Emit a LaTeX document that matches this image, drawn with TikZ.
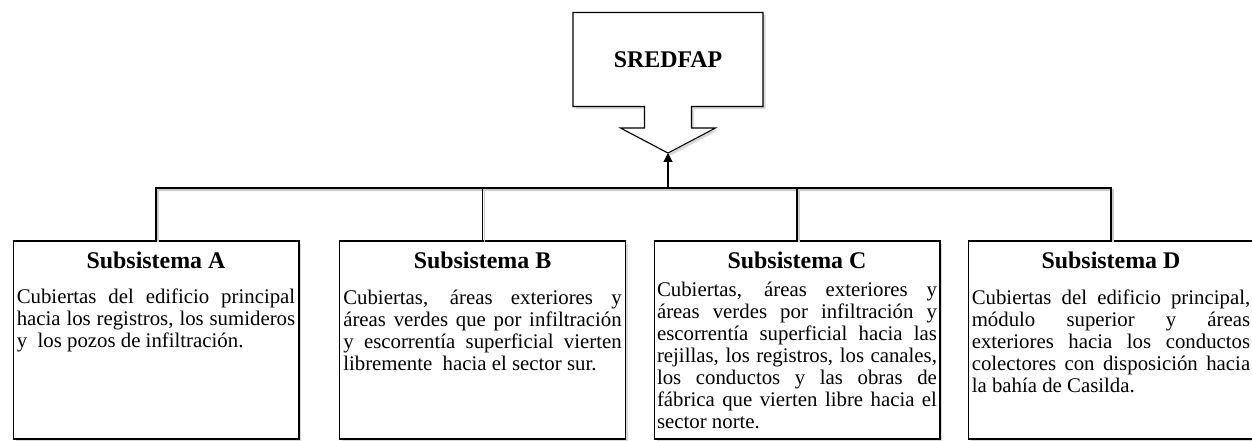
\documentclass[tikz,border=0pt]{standalone}
\usepackage{fontspec}
\setmainfont{Liberation Serif}
\usetikzlibrary{shapes,arrows.meta,calc,shadows}
\tikzset{%
  block/.style   = {draw, rectangle, fill=white, minimum width=5.72cm,
    minimum height=3.96cm,
    drop shadow={shadow xshift=0.05cm, shadow yshift=-0.05cm, fill=black!30}},
  callout/.style = {draw, fill=white,
    drop shadow={shadow xshift=0.05cm, shadow yshift=-0.05cm, fill=black!30}},
  head/.style    = {font=\fontsize{13.6}{15}\selectfont\bfseries, inner sep=0pt},
  body/.style    = {font=\fontsize{11.85}{12.45}\selectfont, text width=5.57cm,
    align=justify, inner sep=0pt, anchor=north},
  wire/.style    = {preaction={draw, black!20,
    transform canvas={shift={(0.04cm,-0.04cm)}}}},
  bus/.style     = {coordinate}
}

\begin{document}
\begin{tikzpicture}[x=0.02cm, y=-0.02cm, line width=0.6pt,
  >={Triangle[length=5pt, width=5pt]}]
\useasboundingbox (0,0) rectangle (1252,440);
% top block with its arrow
\draw[callout] (573,12.5) -- (763,12.5) -- (763,106.5) -- (691.5,106.5)
  -- (691.5,128) -- (715.5,128) -- (668,153) -- (620.5,128) -- (644.5,128)
  -- (644.5,106.5) -- (573,106.5) -- cycle;
\draw node at(668,59.5)[head, name=sredfap]{SREDFAP};
\coordinate (tip) at (668,153);
% subsystems
\draw
	node at(156,340)[block, name=boxa]{}
	node at(482.5,340)[block, name=boxb]{}
	node at(797,340)[block, name=boxc]{}
	node at(1111,340)[block, name=boxd]{};
\draw
	node at($(boxa.north)+(0,20)$)[head, name=heada]{Subsistema A}
	node at($(boxb.north)+(0,20)$)[head, name=headb]{Subsistema B}
	node at($(boxc.north)+(0,20)$)[head, name=headc]{Subsistema C}
	node at($(boxd.north)+(0,20)$)[head, name=headd]{Subsistema D};
\draw
	node at($(boxa.north)+(0,47.5)$)[body, name=texta]{\strut Cubiertas del edificio principal\linebreak
	  hacia los registros, los sumideros\linebreak y\ \ los pozos de infiltración.}
	node at($(boxb.north)+(0,48.5)$)[body, name=textb]{\strut Cubiertas, áreas exteriores y\linebreak
	  áreas verdes que por infiltración\linebreak y escorrentía superficial vierten\linebreak
	  libremente\ \ hacia el sector sur.}
	node at($(boxc.north)+(0,40.5)$)[body, name=textc, text width=5.6cm]{\strut Cubiertas, áreas exteriores y\linebreak
	  áreas verdes por infiltración y\linebreak escorrentía superficial hacia las\linebreak
	  rejillas, los registros, los canales,\linebreak los conductos y las obras de\linebreak
	  fábrica que vierten libre hacia el\linebreak sector norte.}
	node at($(boxd.north)+(0,48.5)$)[body, name=textd]{\strut Cubiertas del edificio principal,\linebreak
	  módulo superior y áreas\linebreak exteriores hacia los conductos\linebreak
	  colectores con disposición hacia\linebreak la bahía de Casilda.};
% connectors
\coordinate[bus] (bus) at (668,188);
\draw[wire] (boxa.north) -- (boxa.north |- bus) -- (boxd.north |- bus) -- (boxd.north);
\draw[wire] (boxb.north) -- (boxb.north |- bus);
\draw[wire] (boxc.north) -- (boxc.north |- bus);
\draw[->] (bus) -- (tip);
\end{tikzpicture}
\end{document}
